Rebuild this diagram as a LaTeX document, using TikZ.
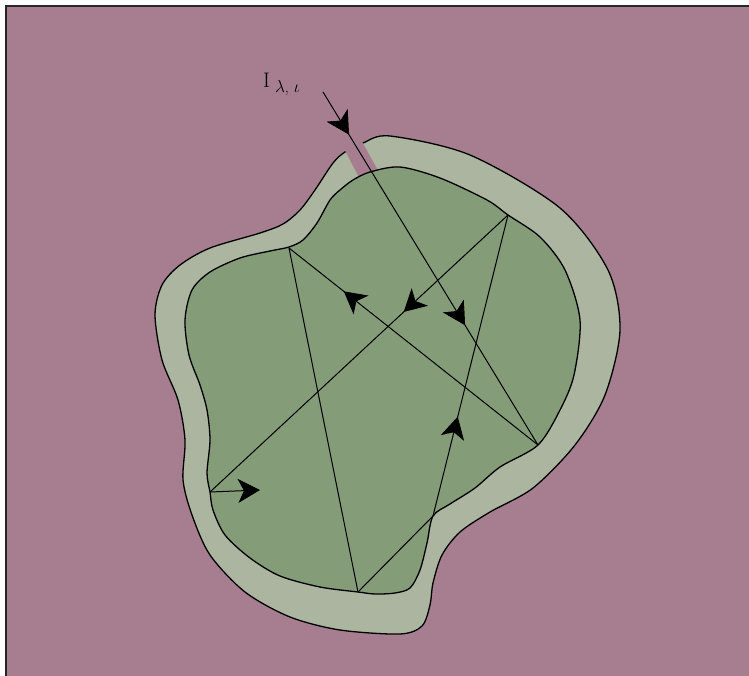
\documentclass[tikz,border=0pt]{standalone}
\usepackage{fontspec}
\usetikzlibrary{arrows.meta,decorations.markings}
\definecolor{bgmauve}{RGB}{166,126,143}
\definecolor{ringgray}{RGB}{171,181,160}
\definecolor{cavgreen}{RGB}{132,156,120}
\begin{document}
\begin{tikzpicture}[x=1pt,y=-1pt,
  ray/.style={line width=1pt},
  rim/.style={line width=1.3pt},
  midtip/.style={postaction={decorate},decoration={markings,
    mark=at position #1 with {\arrow{Stealth[length=22pt,width=24pt,inset=6pt]}}}}]
\useasboundingbox (0,0) rectangle (749,676);
% background
\fill[bgmauve] (6,6) rectangle (749,676);
\draw[line width=2pt,black!85] (6,676) -- (6,6) -- (749,6);
% outer wall
\filldraw[fill=ringgray,rim] plot[smooth cycle] coordinates {
  (345,152) (363,143) (390,136) (470,155) (560,208) (608,270)
  (620,330) (605,395) (575,445) (533,488) (490,512) (460,532)
  (442,555) (433,583) (430,605) (422,626) (400,634)
  (340,630) (290,617) (245,592) (210,555) (192,515) (183,480) (185,440)
  (178,400) (162,360) (155,315) (162,285) (180,265) (210,248) (260,233)
  (283,224) (300,210) (315,190) (333,163)};
% opening
\fill[bgmauve] (339,139) -- (356,131) -- (385,183) -- (364,187) -- cycle;
% cavity
\filldraw[fill=cavgreen,rim] plot[smooth cycle] coordinates {
  (353,180) (370,172) (400,167) (440,178) (487,200) (508,215) (540,237)
  (565,270) (580,320) (574,375) (560,410) (538,445) (500,467) (475,488)
  (450,504) (433,516) (427,543) (420,570) (410,588) (395,593) (375,594)
  (358,592) (320,587) (280,576) (250,558) (225,535) (213,510) (210,492)
  (207,473) (210,440) (207,410) (200,385) (189,355) (185,320) (192,290)
  (210,272) (240,258) (270,251) (289,247) (303,240) (317,223) (330,200)
  (340,190)};
% reflection points
\coordinate (src) at (323,92);
\coordinate (p1) at (538,445);
\coordinate (p2) at (289,248);
\coordinate (p3) at (358,592);
\coordinate (p4) at (433,516);
\coordinate (p5) at (508,215);
\coordinate (p6) at (210,492);
\coordinate (p7) at (260,490);
% rays
\draw[ray,midtip=0.12,midtip=0.66] (src) -- (p1);
\draw[ray,midtip=0.78] (p1) -- (p2);
\draw[ray] (p2) -- (p3);
\draw[ray] (p3) -- (p4);
\draw[ray,midtip=0.33] (p4) -- (p5);
\draw[ray,midtip=0.35] (p5) -- (p6);
\draw[ray,-{Stealth[length=22pt,width=24pt,inset=6pt]}] (p6) -- (p7);
% label
\node[anchor=base west,inner sep=0] (intens) at (263,88)
  {\fontsize{21}{24}\selectfont I\hspace{5pt}\raisebox{-5pt}{\fontsize{16}{18}\selectfont$\lambda$, $\iota$}};
\end{tikzpicture}
\end{document}
